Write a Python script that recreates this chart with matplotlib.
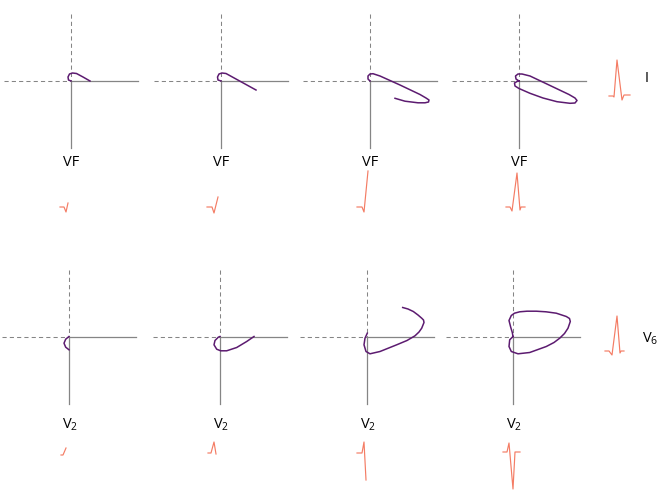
import matplotlib
matplotlib.use('Agg')
import matplotlib.pyplot as plt

plt.rcParams['mathtext.default'] = 'regular'
plt.rcParams['font.family'] = ['Open Sans', 'DejaVu Sans']

# vector loops, offsets from each panel origin (x right, y up)
top_loop_x = [
    [0, -2.5, -3, -1.5, 1.5, 5.5, 12, 19],
    [0, -3, -3.5, -2, 1, 5, 35],
    [0, -2, -2, 0, 3, 10, 30, 50, 56, 59, 58.5, 55, 48, 35, 25],
    [0, -3, -3.5, -1, 3, 11, 30, 50, 56, 58, 56, 51, 38, 24, 11, 0, -4, -4.5, -2, 0],
]
top_loop_y = [
    [0, 1, 4, 7, 8, 7.5, 4, 0],
    [0, 1, 4, 7, 8, 7.5, -9],
    [0, 2, 5, 7, 7.3, 5, -4, -13.5, -17, -19, -21, -21.8, -21.8, -20.2, -17.3],
    [0, 2, 5, 7, 7, 5, -4, -13.5, -17, -19.5, -22, -22.3, -20.7, -17, -12.3, -7.5, -5, -2, -0.5, 0],
]
bottom_loop_x = [
    [0, -3.3, -5, -3.3, 0],
    [0, -1.7, -5, -6, -3.3, 0.7, 6.7, 16.7, 26.7, 34],
    [0.3, -2, -3, -1, 3, 13, 29.7, 40, 48, 52, 54.7, 57, 56.5, 54.7, 51, 46.3, 41, 35.7],
    [0, -3.3, -4, -1.7, 5, 16.7, 33.3, 41, 46.7, 51.5, 55, 57.3, 56.5, 53.3, 43.3, 33, 23.3, 14, 6.7, 1.5, -1.7, -4, -2.3, -0.7, 0],
]
bottom_loop_y = [
    [0, -2.7, -6.7, -10.7, -13.3],
    [0, -0.7, -4, -8.3, -12.7, -14.3, -14.3, -11, -5, 0],
    [3.3, -1.7, -8.3, -15, -17.3, -15, -8.3, -4, 0.7, 4.5, 8.3, 14, 16.5, 18.3, 21.5, 25, 27.5, 29],
    [0, -3.3, -10, -15, -17.3, -16, -10, -6, -1.7, 3, 8.3, 15, 18, 20, 23.3, 24.7, 25.3, 25.3, 24.7, 23.3, 21, 16, 9.3, 4, 0],
]

# ecg traces (time, amplitude) from the start of each trace
top_ecg_t = [[0, 4, 6, 8], [0, 5, 7, 11], [0, 5, 7, 11], [0, 4, 6, 11, 14, 15, 19]]
top_ecg_v = [[0, 0, -5, 4], [0, 0, -6, 10], [0, 0, -5, 36], [0, 0, -4, 34, -3, 0, 0]]
bottom_ecg_t = [[0, 2, 5], [0, 3, 6, 8], [0, 5, 7, 9], [0, 4, 6, 10, 12, 17]]
bottom_ecg_v = [[0, 0, 7], [0, 0, 11, -1], [0, 0, 11, -27], [0, 0, 9, -37, 0, 0]]
lead_i_t = [0, 4, 5, 8, 13, 15, 21]
lead_i_v = [0, 0, -1, 36, -4, 1, 1]
lead_v6_t = [0, 4, 7, 12, 15, 16, 19]
lead_v6_v = [0, 0, -4, 35, -2, 0, 0]

top_label = 'VF'
bottom_label = 'V$_2$'

# layout (pixels)
top_ox = [71, 221, 370, 519]
top_oy = 81
bottom_ox = [69, 220, 367, 513]
bottom_oy = 336.5
arm = 67
top_ecg_x0 = [60, 207, 357, 506]
top_ecg_y0 = 207
bottom_ecg_x0 = [61, 208, 357, 503]
bottom_ecg_y0 = [455, 453, 453, 452]

loop_col = '#5c1b70'
ecg_col = '#f47c64'
axis_col = '#858585'

fig = plt.figure(figsize=(6.61, 4.97), dpi=100)
ax = fig.add_axes([0, 0, 1, 1])
ax.set_xlim(0, 661)
ax.set_ylim(497, 0)
ax.axis('off')


def draw_axes(ox, oy):
    ax.plot([ox - arm, ox], [oy, oy], color=axis_col, lw=0.75, dashes=(4, 3))
    ax.plot([ox, ox], [oy - arm, oy], color=axis_col, lw=0.75, dashes=(4, 3))
    ax.plot([ox, ox + arm], [oy, oy], color=axis_col, lw=0.9)
    ax.plot([ox, ox], [oy, oy + arm], color=axis_col, lw=0.9)


def draw_ecg(x0, y0, t, v):
    ax.plot([x0 + a for a in t], [y0 - b for b in v], color=ecg_col, lw=0.85)


for i in range(4):
    ox = top_ox[i]
    draw_axes(ox, top_oy)
    ax.plot([ox + a for a in top_loop_x[i]], [top_oy - b for b in top_loop_y[i]],
            color=loop_col, lw=1.1, solid_joinstyle='round')
    ax.text(ox, 166, top_label, ha='center', va='baseline', fontsize=10.5)
    draw_ecg(top_ecg_x0[i], top_ecg_y0, top_ecg_t[i], top_ecg_v[i])

    ox = bottom_ox[i]
    draw_axes(ox, bottom_oy)
    ax.plot([ox + a for a in bottom_loop_x[i]], [bottom_oy - b for b in bottom_loop_y[i]],
            color=loop_col, lw=1.1, solid_joinstyle='round')
    ax.text(ox + 1, 428.5, bottom_label, ha='center', va='baseline', fontsize=10.5)
    draw_ecg(bottom_ecg_x0[i], bottom_ecg_y0[i], bottom_ecg_t[i], bottom_ecg_v[i])

draw_ecg(609, 96, lead_i_t, lead_i_v)
ax.text(647, 82, 'I', ha='center', va='baseline', fontsize=10.5)
draw_ecg(605, 351, lead_v6_t, lead_v6_v)
ax.text(642, 343, 'V$_6$', ha='left', va='baseline', fontsize=10.5)

plt.savefig('out.png', dpi=100)
